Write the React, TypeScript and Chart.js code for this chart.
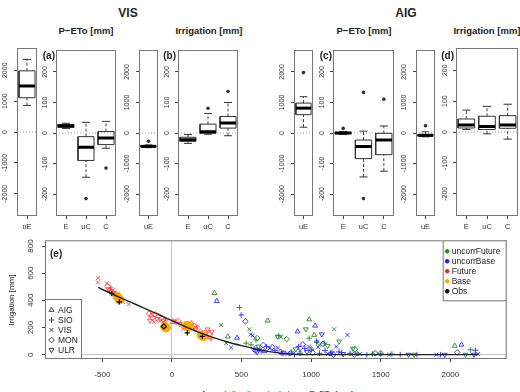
import React, { useEffect, useRef } from 'react';
import { Chart, registerables } from 'chart.js';
import { drawPoint } from 'chart.js/helpers';

Chart.register(...registerables);
Chart.defaults.font.family = "'Liberation Sans', Arial, sans-serif";
Chart.defaults.color = '#222';

const FONT = "'Liberation Sans', Arial, sans-serif";

// ---------------- box-plot panels ----------------
const boxGroups = ['E', 'uC', 'C'];
const ueGroup = ['uE'];
const ueTicks = [-2000, -1000, 0, 1000, 2000];
const mainTicks = [-200, -100, 0, 100, 200];
const ueLimit = 2720;
const mainLimit = 272;

// five-number summaries: [lower whisker, Q1, median, Q3, upper whisker]
const visPetoUE = [[860, 1110, 1490, 1980, 2350]];
const visPetoUEOut = [[]];
const visPeto = [[15, 18, 24, 28, 32], [-145, -90, -47, -12, 35], [-50, -38, -16, 5, 38]];
const visPetoOut = [[], [-215], [-115]];

const visIrrUE = [[-480, -462, -438, -410, -390]];
const visIrrUEOut = [[-270]];
const visIrr = [[-34, -27, -22, -14, -5], [-4, -1, 4, 29, 64], [-9, 16, 33, 54, 100]];
const visIrrOut = [[], [81], [136]];

const aigPetoUE = [[190, 600, 815, 980, 1190]];
const aigPetoUEOut = [[1980]];
const aigPeto = [[-5, -2, 0, 2, 5], [-144, -84, -44, -23, 6], [-125, -71, -23, -1, 23]];
const aigPetoOut = [[15], [133, -215], [111]];

const aigIrrUE = [[-125, -100, -75, -50, 40]];
const aigIrrUEOut = [[237]];
const aigIrr = [[8, 13, 23, 42, 71], [-6, 8, 18, 51, 83], [-23, 12, 23, 53, 90]];
const aigIrrOut = [[], [], []];

// ---------------- scatter panel (e) ----------------
const sites = ['AIG', 'SIO', 'VIS', 'MON', 'ULR'];
const siteStyle: Record<string, string> = { AIG: 'triangle', SIO: 'cross', VIS: 'crossRot', MON: 'rectRot', ULR: 'triangle' };
const siteRotation: Record<string, number> = { AIG: 0, SIO: 0, VIS: 0, MON: 0, ULR: 180 };

const xTicksE = [-500, 0, 500, 1000, 1500, 2000];
const yTicksE = [0, 200, 400, 600, 800];

// fitted irrigation curve
const fitX = [-530, -400, -300, -200, -100, 0, 100, 200, 300, 400, 500, 600, 700, 800, 900, 1000, 1500, 2200];
const fitY = [495, 433, 388, 343, 297, 250, 205, 162, 125, 93, 66, 42, 22, 8, 1, 0, 0, 0];

const obsPts: [number, number, string][] = [
  [-432, 450, 'SIO'], [-378, 388, 'SIO'], [-58, 208, 'MON'], [110, 160, 'SIO'], [218, 135, 'SIO'],
];
const basePts: [number, number, string][] = [
  [-392, 428, 'MON'], [-378, 405, 'MON'], [-50, 205, 'MON'], [-42, 198, 'MON'],
  [108, 215, 'MON'], [122, 205, 'MON'], [212, 142, 'MON'], [228, 135, 'MON'],
];
const futurePts: [number, number, string][] = [
  [-530, 565, 'VIS'], [-532, 532, 'VIS'], [-468, 525, 'VIS'], [-462, 502, 'MON'], [-455, 482, 'ULR'],
  [-447, 470, 'AIG'], [-440, 492, 'SIO'], [-432, 462, 'MON'], [-424, 474, 'VIS'], [-415, 452, 'ULR'],
  [-405, 446, 'MON'], [-398, 432, 'SIO'], [-388, 420, 'AIG'], [-376, 410, 'MON'], [-365, 398, 'ULR'],
  [-352, 388, 'VIS'], [-312, 372, 'VIS'],
  [-165, 302, 'MON'], [-158, 250, 'ULR'], [-150, 288, 'AIG'], [-138, 272, 'MON'], [-128, 240, 'VIS'],
  [-120, 298, 'MON'], [-105, 262, 'ULR'], [-95, 284, 'MON'], [-85, 246, 'VIS'], [-75, 270, 'MON'],
  [-62, 252, 'ULR'], [-52, 232, 'MON'], [-40, 256, 'VIS'],
  [5, 240, 'AIG'], [20, 252, 'VIS'], [30, 236, 'SIO'], [45, 246, 'MON'], [56, 226, 'ULR'],
  [80, 190, 'VIS'], [95, 206, 'MON'], [108, 226, 'MON'], [120, 200, 'ULR'], [130, 216, 'MON'],
  [140, 230, 'AIG'], [150, 196, 'VIS'], [160, 212, 'MON'], [170, 186, 'ULR'], [180, 206, 'SIO'],
  [205, 170, 'MON'], [215, 150, 'ULR'], [225, 130, 'VIS'], [235, 160, 'MON'], [245, 140, 'AIG'],
  [255, 186, 'ULR'], [262, 125, 'VIS'], [270, 150, 'MON'], [280, 116, 'SIO'], [286, 170, 'ULR'],
];
const uncorrBasePts: [number, number, string][] = [
  [322, 395, 'AIG'], [425, 52, 'VIS'], [468, 124, 'AIG'], [497, 292, 'SIO'], [528, 245, 'MON'],
  [565, 150, 'VIS'], [580, 140, 'VIS'], [590, 42, 'SIO'], [600, 30, 'MON'], [612, 18, 'ULR'],
  [625, 40, 'VIS'], [640, 28, 'SIO'], [655, 70, 'MON'], [665, 25, 'AIG'], [680, 60, 'SIO'],
  [700, 45, 'VIS'], [720, 55, 'MON'], [740, 30, 'SIO'], [760, 50, 'VIS'], [780, 20, 'MON'],
  [790, 8, 'SIO'], [800, 15, 'ULR'], [830, 5, 'VIS'], [850, 10, 'MON'], [880, 0, 'SIO'],
  [903, 170, 'AIG'], [910, 60, 'SIO'], [920, 30, 'VIS'], [940, 75, 'MON'], [955, 45, 'SIO'],
  [970, 20, 'ULR'], [985, 60, 'VIS'], [1000, 35, 'SIO'], [1010, 15, 'MON'], [1029, 213, 'AIG'],
  [1040, 100, 'SIO'], [1050, 55, 'VIS'], [1060, 10, 'SIO'], [1077, 150, 'ULR'], [1085, 80, 'MON'],
  [1100, 30, 'SIO'], [1120, 5, 'VIS'], [1140, 12, 'SIO'], [1160, 0, 'MON'], [1180, 60, 'VIS'],
  [1200, 20, 'SIO'], [1230, 5, 'ULR'], [1261, 145, 'VIS'], [1280, 10, 'SIO'], [1310, 0, 'MON'],
  [1350, 5, 'VIS'], [1400, 0, 'SIO'], [1460, 10, 'MON'], [1500, 5, 'SIO'], [1560, 0, 'VIS'],
  [1640, 0, 'SIO'], [1700, 0, 'ULR'], [1760, 0, 'SIO'], [1900, 0, 'VIS'], [1930, 0, 'SIO'],
  [1960, 0, 'ULR'], [2049, 17, 'MON'], [2080, 73, 'AIG'], [2180, 32, 'SIO'], [2200, 5, 'VIS'],
  [2170, 0, 'ULR'],
];
const uncorrFuturePts: [number, number, string][] = [
  [306, 453, 'AIG'], [353, 218, 'VIS'], [389, 85, 'VIS'], [401, 133, 'AIG'], [485, 347, 'SIO'],
  [533, 85, 'SIO'], [556, 187, 'VIS'], [568, 73, 'SIO'], [604, 109, 'SIO'], [612, 122, 'MON'],
  [620, 60, 'ULR'], [688, 250, 'AIG'], [759, 133, 'ULR'], [767, 140, 'SIO'], [783, 130, 'VIS'],
  [824, 114, 'MON'], [860, 20, 'SIO'], [890, 40, 'ULR'], [920, 10, 'SIO'], [962, 187, 'ULR'],
  [986, 259, 'AIG'], [986, 121, 'SIO'], [1000, 40, 'MON'], [1022, 145, 'AIG'], [1040, 90, 'SIO'],
  [1060, 70, 'VIS'], [1094, 85, 'SIO'], [1118, 65, 'ULR'], [1150, 20, 'SIO'], [1165, 187, 'VIS'],
  [1201, 97, 'ULR'], [1220, 15, 'SIO'], [1300, 45, 'ULR'], [1315, 40, 'MON'], [1330, 10, 'SIO'],
  [1440, 5, 'SIO'], [1500, 10, 'MON'], [1580, 5, 'SIO'], [1740, 0, 'ULR'], [2032, 65, 'AIG'],
  [2109, 0, 'ULR'], [2144, 36, 'SIO'],
];

const seriesNames = ['uncorrFuture', 'uncorrBase', 'Future', 'Base', 'Obs'];
const seriesColors = ['#1f8a1f', '#1a1aff', '#ff2020', '#ffa500', '#000000'];

// ---------------- plugins ----------------
const framePlugin = {
  id: 'frame',
  afterDraw(chart: any) {
    const { ctx, chartArea: a } = chart;
    ctx.save();
    ctx.strokeStyle = '#777';
    ctx.lineWidth = 1;
    ctx.strokeRect(a.left + 0.5, a.top + 0.5, a.right - a.left - 1, a.bottom - a.top - 1);
    ctx.restore();
  },
};

const legendsPlugin = {
  id: 'scatterLegends',
  afterDraw(chart: any) {
    const { ctx, chartArea: a } = chart;
    ctx.save();
    ctx.font = `8.5px ${FONT}`;
    ctx.textBaseline = 'middle';
    ctx.lineWidth = 1;

    // station symbols, bottom-left corner
    const lx = a.left, lh = 60, lw = 36, ly = a.bottom - lh;
    ctx.fillStyle = '#fff';
    ctx.fillRect(lx, ly, lw, lh);
    ctx.strokeStyle = '#777';
    ctx.strokeRect(lx + 0.5, ly + 0.5, lw, lh - 1);
    sites.forEach((name, i) => {
      const y = ly + 11 + i * 10;
      ctx.strokeStyle = '#444';
      ctx.fillStyle = 'rgba(0,0,0,0)';
      drawPoint(ctx, { pointStyle: siteStyle[name], rotation: siteRotation[name], radius: 2.8, borderWidth: 1 } as any, lx + 6.5, y);
      ctx.fillStyle = '#222';
      ctx.fillText(name, lx + 13, y + 0.5);
    });

    // series colours, top-right corner
    const rw = 64, rh = 60, rx = a.right - rw, ry = a.top;
    ctx.fillStyle = '#fff';
    ctx.fillRect(rx, ry, rw, rh);
    ctx.strokeStyle = '#777';
    ctx.strokeRect(rx + 0.5, ry + 0.5, rw - 1, rh);
    seriesNames.forEach((name, i) => {
      const y = ry + 11 + i * 10;
      ctx.fillStyle = seriesColors[i];
      ctx.strokeStyle = seriesColors[i];
      drawPoint(ctx, { pointStyle: 'circle', rotation: 0, radius: 1.8, borderWidth: 0.5 } as any, rx + 4.5, y);
      ctx.fillStyle = '#222';
      ctx.fillText(name, rx + 9, y + 0.5);
    });
    ctx.restore();
  },
};

// ---------------- chart builders ----------------
// box half-width and staple half-width in group units (R defaults: boxwex 0.8, staplewex 0.5)
const BOX_HALF = 0.4;
const CAP_HALF = 0.2;

function boxConfig(labels: string[], stats: number[][], outs: number[][], limit: number, ticks: number[], pad: number): any {
  const n = labels.length;
  const gap = (c: number) => ({ x: c, y: null });
  const boxes = stats.flatMap((s, i) => {
    const c = i + 1;
    return [
      { x: c - BOX_HALF, y: s[1] }, { x: c + BOX_HALF, y: s[1] }, { x: c + BOX_HALF, y: s[3] },
      { x: c - BOX_HALF, y: s[3] }, { x: c - BOX_HALF, y: s[1] }, gap(c),
    ];
  });
  const medians = stats.flatMap((s, i) => [{ x: i + 1 - BOX_HALF, y: s[2] }, { x: i + 1 + BOX_HALF, y: s[2] }, gap(i + 1)]);
  const caps = stats.flatMap((s, i) => [
    { x: i + 1 - CAP_HALF, y: s[0] }, { x: i + 1 + CAP_HALF, y: s[0] }, gap(i + 1),
    { x: i + 1 - CAP_HALF, y: s[4] }, { x: i + 1 + CAP_HALF, y: s[4] }, gap(i + 1),
  ]);
  const whiskers = stats.flatMap((s, i) => [
    { x: i + 1, y: s[0] }, { x: i + 1, y: s[1] }, gap(i + 1),
    { x: i + 1, y: s[3] }, { x: i + 1, y: s[4] }, gap(i + 1),
  ]);
  const points = outs.flatMap((o, i) => o.map((v) => ({ x: i + 1, y: v })));
  const seg = { showLine: true, pointRadius: 0, spanGaps: false, borderCapStyle: 'butt' };

  return {
    type: 'scatter',
    data: {
      datasets: [
        { ...seg, data: medians, borderColor: '#000', borderWidth: 3 },
        { data: points, pointStyle: 'circle', pointRadius: 1.8, backgroundColor: '#333', borderColor: '#333', borderWidth: 0 },
        { ...seg, data: caps, borderColor: '#333', borderWidth: 1 },
        { ...seg, data: boxes, borderColor: '#333', borderWidth: 1 },
        { ...seg, data: whiskers, borderColor: '#444', borderWidth: 1, borderDash: [3, 2] },
        { ...seg, data: [{ x: 0.5, y: 0 }, { x: n + 0.5, y: 0 }], borderColor: '#9a9a9a', borderWidth: 1, borderDash: [1, 2] },
      ],
    },
    options: {
      responsive: false,
      animation: false,
      devicePixelRatio: 1,
      events: [],
      layout: { padding: { left: 0, top: 2, right: 2, bottom: 0 } },
      plugins: { legend: { display: false }, tooltip: { enabled: false } },
      scales: {
        x: {
          type: 'linear', min: 0.5, max: n + 0.5,
          afterBuildTicks: (s: any) => { s.ticks = labels.map((_, i) => ({ value: i + 1 })); },
          grid: { drawOnChartArea: false, drawTicks: true, tickLength: 3, tickColor: '#444' },
          border: { display: false },
          ticks: {
            callback: (v: any) => labels[Math.round(v) - 1], font: { size: 7.5 }, color: '#333',
            padding: 3, autoSkip: false, maxRotation: 0,
          },
          afterFit: (s: any) => { s.height = 16; s.paddingLeft = 0; s.paddingRight = 0; },
        },
        y: {
          type: 'linear', min: -limit, max: limit,
          afterBuildTicks: (s: any) => { s.ticks = ticks.map((v) => ({ value: v })); },
          ticks: {
            callback: (v: any) => String(v), minRotation: 90, maxRotation: 90, crossAlign: 'center',
            padding: pad, font: { size: 7 }, color: '#333',
          },
          grid: { drawOnChartArea: false, tickLength: 3, tickColor: '#444' },
          border: { display: false },
          afterFit: (s: any) => { s.width = 16; s.paddingTop = 0; s.paddingBottom = 0; },
        },
      },
    },
    plugins: [framePlugin],
  };
}

function siteSeries(points: [number, number, string][], color: string, fill: string, radius: number, width: number): any {
  return {
    type: 'scatter',
    data: points.map(([x, y, s]) => ({ x, y, s })),
    borderColor: color,
    backgroundColor: fill,
    borderWidth: width,
    pointRadius: radius,
    pointStyle: (c: any) => (c.raw ? siteStyle[c.raw.s] : 'circle'),
    pointRotation: (c: any) => (c.raw ? siteRotation[c.raw.s] : 0),
  };
}

function scatterConfig(): any {
  return {
    type: 'scatter',
    data: {
      datasets: [
        {
          type: 'line', data: fitX.map((x, i) => ({ x, y: fitY[i] })), borderColor: '#222',
          borderWidth: 1.4, pointRadius: 0, cubicInterpolationMode: 'monotone',
        },
        siteSeries(obsPts, '#000', 'rgba(0,0,0,0)', 2.6, 1.2),
        {
          type: 'scatter', data: basePts.map(([x, y]) => ({ x, y })), pointStyle: 'circle',
          pointRadius: 4.3, backgroundColor: 'rgba(255,165,0,0.9)', borderColor: '#ffa500', borderWidth: 1,
        },
        siteSeries(futurePts, 'rgba(255,40,40,0.75)', 'rgba(0,0,0,0)', 2.8, 1),
        siteSeries(uncorrBasePts, 'rgba(30,30,255,0.85)', 'rgba(0,0,0,0)', 2.8, 1),
        siteSeries(uncorrFuturePts, 'rgba(31,138,31,0.9)', 'rgba(0,0,0,0)', 2.8, 1),
      ],
    },
    options: {
      responsive: false,
      animation: false,
      devicePixelRatio: 1,
      events: [],
      layout: { padding: { left: 0, top: 4, right: 4, bottom: 0 } },
      plugins: { legend: { display: false }, tooltip: { enabled: false } },
      scales: {
        x: {
          type: 'linear', min: -912, max: 2405,
          afterBuildTicks: (s: any) => { s.ticks = xTicksE.map((v) => ({ value: v })); },
          ticks: { callback: (v: any) => String(v), font: { size: 8 }, color: '#333', padding: 8, maxRotation: 0 },
          grid: { color: (c: any) => (c.tick && c.tick.value === 0 ? '#c8c8c8' : 'rgba(0,0,0,0)'), tickColor: '#444', tickLength: 3 },
          border: { display: false },
          afterFit: (s: any) => { s.height = 28; s.paddingLeft = 0; s.paddingRight = 0; },
        },
        y: {
          type: 'linear', min: -32, max: 842,
          afterBuildTicks: (s: any) => { s.ticks = yTicksE.map((v) => ({ value: v })); },
          ticks: {
            callback: (v: any) => String(v), minRotation: 90, maxRotation: 90, crossAlign: 'center',
            padding: 5, font: { size: 8 }, color: '#333',
          },
          grid: { color: (c: any) => (c.tick && c.tick.value === 0 ? '#c8c8c8' : 'rgba(0,0,0,0)'), tickColor: '#444', tickLength: 3 },
          border: { display: false },
          afterFit: (s: any) => { s.width = 25; s.paddingTop = 0; s.paddingBottom = 0; },
        },
      },
    },
    plugins: [framePlugin, legendsPlugin],
  };
}

// ---------------- layout ----------------
const FRAME_TOP = 48;
const FRAME_BOTTOM = 216;

type Panel = { key: string; left: number; right: number; build: () => any };

const panels: Panel[] = [
  { key: 'a-ue', left: 17, right: 37, build: () => boxConfig(ueGroup, visPetoUE, visPetoUEOut, ueLimit, ueTicks, 0) },
  { key: 'a', left: 56, right: 118, build: () => boxConfig(boxGroups, visPeto, visPetoOut, mainLimit, mainTicks, 1) },
  { key: 'b-ue', left: 139, right: 160, build: () => boxConfig(ueGroup, visIrrUE, visIrrUEOut, ueLimit, ueTicks, 0) },
  { key: 'b', left: 178, right: 240, build: () => boxConfig(boxGroups, visIrr, visIrrOut, mainLimit, mainTicks, 1) },
  { key: 'c-ue', left: 294, right: 315, build: () => boxConfig(ueGroup, aigPetoUE, aigPetoUEOut, ueLimit, ueTicks, 0) },
  { key: 'c', left: 333, right: 396, build: () => boxConfig(boxGroups, aigPeto, aigPetoOut, mainLimit, mainTicks, 1) },
  { key: 'd-ue', left: 416, right: 437, build: () => boxConfig(ueGroup, aigIrrUE, aigIrrUEOut, ueLimit, ueTicks, 0) },
  { key: 'd', left: 456, right: 518, build: () => boxConfig(boxGroups, aigIrr, aigIrrOut, mainLimit, mainTicks, 1) },
];

function ChartBox({ left, top, width, height, build }: { left: number; top: number; width: number; height: number; build: () => any }) {
  const ref = useRef<HTMLCanvasElement>(null);
  useEffect(() => {
    const chart = new Chart(ref.current as HTMLCanvasElement, build());
    return () => chart.destroy();
  }, []);
  return (
    <canvas
      ref={ref}
      width={width}
      height={height}
      style={{ position: 'absolute', left, top, width, height }}
    />
  );
}

function Txt({ x, y, children, size, bold, align = 'center', rotate = false }: any) {
  const tx = align === 'center' ? '-50%' : align === 'right' ? '-100%' : '0';
  return (
    <div
      style={{
        position: 'absolute', left: x, top: y, whiteSpace: 'nowrap', lineHeight: 1,
        fontSize: size, fontWeight: bold ? 700 : 400, color: '#222',
        transform: `translate(${tx}, -50%)${rotate ? ' rotate(-90deg)' : ''}`,
        transformOrigin: rotate ? '50% 50%' : undefined,
      }}
    >
      {children}
    </div>
  );
}

export default function App() {
  return (
    <div
      style={{
        position: 'absolute', left: 0, top: 0, width: 520, height: 392, overflow: 'hidden',
        background: '#fff', fontFamily: FONT,
      }}
    >
      {panels.map((p) => (
        <ChartBox
          key={p.key}
          left={p.left - 16}
          top={FRAME_TOP - 2}
          width={16 + (p.right - p.left) + 2}
          height={2 + (FRAME_BOTTOM - FRAME_TOP) + 16}
          build={p.build}
        />
      ))}
      <ChartBox left={20} top={235} width={492} height={152} build={scatterConfig} />

      <Txt x={128} y={13} size={12} bold>VIS</Txt>
      <Txt x={406} y={13} size={12} bold>AIG</Txt>
      <Txt x={86} y={31} size={9.5} bold>P−ETo [mm]</Txt>
      <Txt x={209} y={31} size={9.5} bold>Irrigation [mm]</Txt>
      <Txt x={364} y={31} size={9.5} bold>P−ETo [mm]</Txt>
      <Txt x={487} y={31} size={9.5} bold>Irrigation [mm]</Txt>

      <Txt x={55} y={56} size={10} bold align="right">(a)</Txt>
      <Txt x={176} y={56} size={10} bold align="right">(b)</Txt>
      <Txt x={332} y={56} size={10} bold align="right">(c)</Txt>
      <Txt x={454} y={56} size={10} bold align="right">(d)</Txt>
      <Txt x={50} y={254} size={10} bold align="left">(e)</Txt>

      <Txt x={12} y={300} size={8} rotate>Irrigation [mm]</Txt>
      <Txt x={277} y={394} size={8}>Annual climatic water balance P−ETo [mm]</Txt>
    </div>
  );
}
